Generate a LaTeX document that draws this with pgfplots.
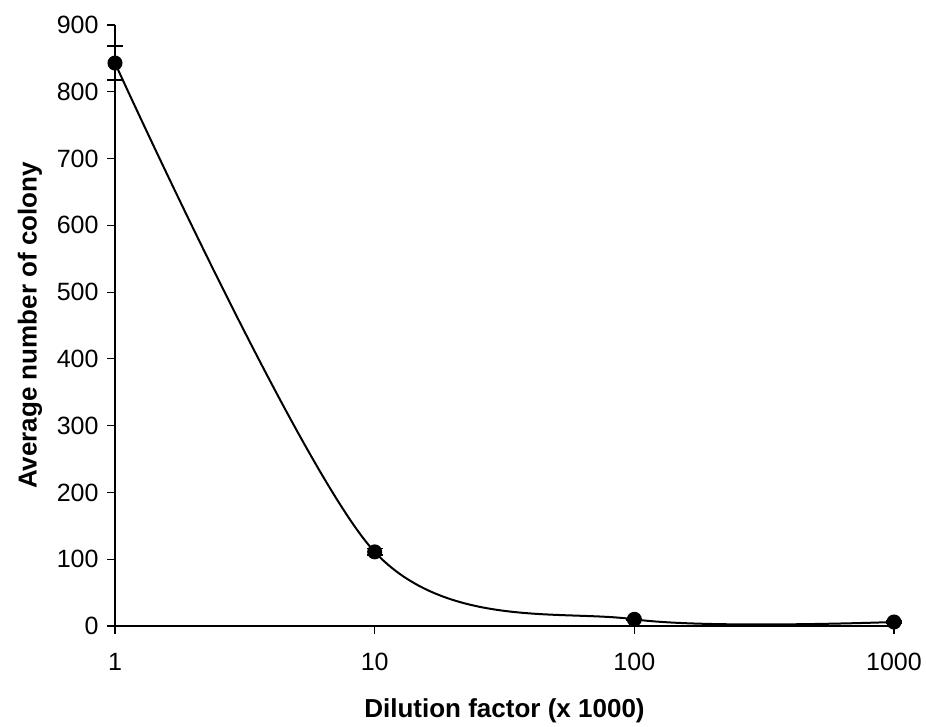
\documentclass[border=0pt]{standalone}
\usepackage{pgfplots}
\pgfplotsset{compat=1.18}
\usepackage{fontspec}
\setmainfont{Liberation Sans}
\begin{document}
\begin{tikzpicture}[x=1pt,y=1pt]
\path[use as bounding box] (-115,-101) rectangle (811,626);
\begin{axis}[
  at={(0,0)}, anchor=south west,
  scale only axis, width=779pt, height=601pt,
  xmode=log, log basis x=10,
  xmin=1, xmax=1000, ymin=0, ymax=900,
  xtick={1,10,100,1000}, xticklabels={1,10,100,1000},
  ytick={0,100,...,900},
  minor xtick={},
  axis lines*=left,
  axis line style={line width=1.2pt, -},
  tick align=outside, major tick length=8pt,
  every tick/.style={black, line width=1.2pt},
  clip=false,
  /pgf/number format/assume math mode=true,
  ticklabel style={font=\fontsize{25}{25}\selectfont},
  xticklabel style={yshift=-16pt},
  yticklabel style={xshift=-5pt},
  label style={font=\bfseries\fontsize{26}{26}\selectfont},
  xlabel={Dilution factor (x 1000)},
  ylabel={Average number of colony},
  xlabel style={at={(axis description cs:0.5,0)}, yshift=-85pt, anchor=center},
  ylabel style={at={(axis description cs:0,0.5)}, yshift=85pt, anchor=center},
]
\addplot[black, line width=2pt, smooth, tension=0.5,
  mark=*, mark size=6.5pt, mark options={solid, fill=black},
  error bars/.cd, y dir=both, y explicit,
  error bar style={line width=1.8pt, black},
  error mark options={rotate=90, mark size=8pt, line width=1.8pt, black}]
  table[x=x, y=y, y error=e] {
    x     y    e
    1     843  25
    10    111  5
    100   10   1
    1000  6    1
  };
\end{axis}
\end{tikzpicture}
\end{document}
